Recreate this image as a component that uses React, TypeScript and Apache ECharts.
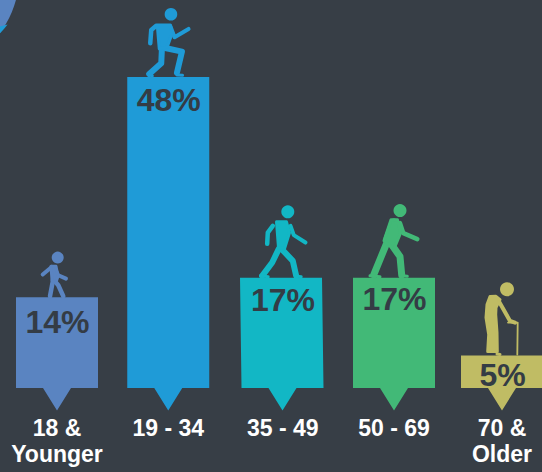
import React, { useEffect, useRef } from "react";
import * as echarts from "echarts";

const categories = ["18 &\nYounger", "19 - 34", "35 - 49", "50 - 69", "70 &\nOlder"];
const shares = [14, 48, 17, 17, 5];
const barColors = ["#5A84C1", "#1F9BD7", "#12B7C5", "#42B977", "#C0BC64"];
const BG = "#373E46";
const INK = "#343C45";
const FONT = '"Liberation Sans", Arial, sans-serif';

// small per-bar hand-placement quirks of the original infographic
const centerNudge = [0, 0, 3, 3.25, 0];
const topSkew = [0, 0, -1.5, 0, 0];
const labelInset = [24.5, 23.5, 22, 21, 19];

type Pt = [number, number];
type Figure = {
  head: [number, number, number];
  body: Pt[];
  limbs: { w: number; pts: Pt[] }[];
};

const figures: Figure[] = [
  {
    head: [0.7, -39.7, 6],
    body: [[-6, -31], [-1, -31], [1, -21], [-1, -15], [-5, -17]],
    limbs: [
      { w: 4, pts: [[-14.3, -22.7], [-5.3, -30.3]] },
      { w: 4, pts: [[-2, -28.7], [1.3, -22], [9, -18.7]] },
      { w: 4.5, pts: [[-3.7, -18.7], [-7, -1]] },
      { w: 4.5, pts: [[-3, -17], [1.3, -12], [6.3, -1]] },
    ],
  },
  {
    head: [2.7, -62.7, 6.3],
    body: [[-11, -52], [2, -52], [4, -44], [-1, -30], [-9, -28]],
    limbs: [
      { w: 4.5, pts: [[-12.3, -51], [-17, -47], [-18, -33.7]] },
      { w: 4, pts: [[2, -51], [6.3, -39.7], [20.3, -48]] },
      { w: 6, pts: [[-6.3, -29], [-7, -13.7], [-19, -3]] },
      { w: 6, pts: [[-3, -29], [13.7, -25.3], [8.7, -4.3]] },
      { w: 3, pts: [[8.7, -2], [14.3, -1.6]] },
      { w: 3, pts: [[-20, -3], [-16, -1]] },
    ],
  },
  {
    head: [5.3, -66, 6.5],
    body: [[-6, -56], [4, -56], [7, -45], [2, -29], [-4, -30]],
    limbs: [
      { w: 4.5, pts: [[-9.7, -52], [-14.7, -45.3], [-15.3, -34]] },
      { w: 4, pts: [[8, -52], [11.3, -42.7], [23, -35.3]] },
      { w: 6, pts: [[-3.7, -29], [-10.3, -15.3], [-20.3, -2]] },
      { w: 6, pts: [[-2, -30], [10.3, -17], [13.7, -2]] },
      { w: 3, pts: [[14.7, -1.7], [18.7, -1]] },
      { w: 3, pts: [[-22, -2], [-14.3, -1]] },
    ],
  },
  {
    head: [6, -67.3, 6.5],
    body: [[-3, -58], [3.5, -58], [6.5, -44.7], [0, -29], [-10, -37]],
    limbs: [
      { w: 9, pts: [[0, -55], [-6, -39]] },
      { w: 4.5, pts: [[6, -54.7], [9.3, -44.7], [23.3, -38.7]] },
      { w: 7, pts: [[-7.3, -34.7], [-20.3, -3]] },
      { w: 7, pts: [[-2.3, -33], [6, -21.3], [7.7, -3]] },
      { w: 3, pts: [[7.7, -2.2], [13.3, -1.6]] },
      { w: 3, pts: [[-24, -2], [-14, -1]] },
    ],
  },
  {
    head: [5, -66.3, 7],
    body: [[-12, -59], [-6, -59.3], [-2, -56], [-6, -48], [-6.3, -41], [-5, -23], [-4.7, -4], [-14.3, -4], [-13.3, -21], [-16, -38], [-15, -51]],
    limbs: [
      { w: 4, pts: [[-3, -54], [8, -34.7], [13, -33]] },
      { w: 1.8, pts: [[6, -33], [15.7, -33], [15.3, -1]] },
      { w: 3, pts: [[-5, -1.6], [-2, -1.2]] },
    ],
  },
];

function renderBar(params: any, api: any) {
  const i = params.dataIndex as number;
  const [cx0, y0] = api.coord([i, 0]);
  const [, top] = api.coord([i, api.value(1)]);
  const cx = cx0 + centerNudge[i];
  const color = barColors[i];
  const half = 41;
  const skew = topSkew[i];
  const fig = figures[i];
  const children: any[] = [
    {
      type: "polygon",
      shape: {
        points: [
          [cx - half + skew, top],
          [cx + half + skew, top],
          [cx + half, y0],
          [cx + 14, y0],
          [cx, y0 + 22.5],
          [cx - 14, y0],
          [cx - half, y0],
        ],
      },
      style: { fill: color },
    },
    ...fig.limbs.map((l) => ({
      type: "polyline",
      shape: { points: l.pts.map(([x, y]) => [cx + x, top + y]) },
      style: { stroke: color, fill: null, lineWidth: l.w, lineCap: "round", lineJoin: "round" },
    })),
    {
      type: "polygon",
      shape: { points: fig.body.map(([x, y]) => [cx + x, top + y]) },
      style: { fill: color, stroke: color, lineWidth: 3, lineJoin: "round" },
    },
    {
      type: "circle",
      shape: { cx: cx + fig.head[0], cy: top + fig.head[1], r: fig.head[2] },
      style: { fill: color },
    },
    {
      type: "text",
      style: {
        text: api.value(1) + "%",
        x: cx + 0.5,
        y: top + labelInset[i],
        fill: INK,
        fontFamily: FONT,
        fontWeight: "bold",
        fontSize: 32,
        align: "center",
        verticalAlign: "middle",
      },
    },
  ];
  return { type: "group", children };
}

export default function App() {
  const ref = useRef<HTMLDivElement>(null);
  useEffect(() => {
    document.body.style.margin = "0";
    const chart = echarts.init(ref.current!, null, { renderer: "svg" });
    const labelBase = { fontFamily: FONT, fontWeight: "bold" as const, fontSize: 23, color: "#FFFFFF", lineHeight: 26 };
    chart.setOption({
      animation: false,
      backgroundColor: BG,
      grid: { left: 57, width: 445, top: 64, height: 324, containLabel: false },
      xAxis: {
        type: "category",
        boundaryGap: false,
        data: categories,
        axisLine: { show: false },
        axisTick: { show: false },
        axisLabel: {
          ...labelBase,
          interval: 0,
          margin: 27,
          formatter: (v: string, idx: number) => (centerNudge[idx] ? `{shift|${v}}` : v),
          rich: { shift: { ...labelBase, padding: [0, 0, 0, 6.5] } },
        },
      },
      yAxis: { type: "value", min: 0, max: 50, show: false, splitLine: { show: false } },
      graphic: [
        { type: "circle", shape: { cx: -82, cy: -27, r: 101.6 }, style: { fill: "#5A84C1" } },
        {
          type: "polygon",
          shape: { points: [[7.6, 24.5], [0, 26.5], [0, 33.3], [3.5, 29.5]] },
          style: { fill: "#1F9BD7" },
        },
      ],
      series: [
        {
          type: "custom",
          clip: false,
          renderItem: renderBar,
          encode: { x: 0, y: 1 },
          data: shares.map((v, i) => [i, v]),
        },
      ],
    });
    return () => chart.dispose();
  }, []);
  return <div ref={ref} style={{ width: 542, height: 472, overflow: "hidden" }} />;
}
